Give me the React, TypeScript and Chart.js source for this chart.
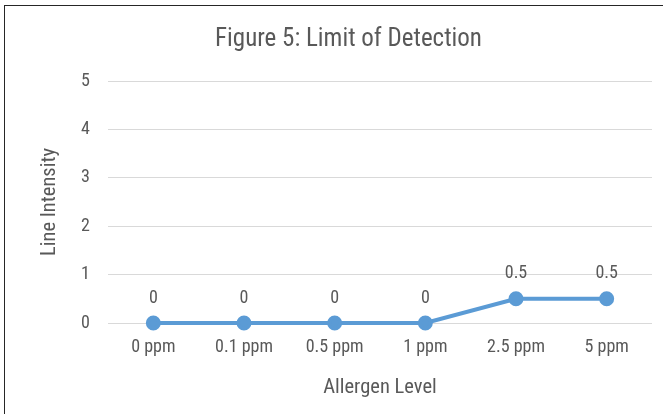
import React, { useEffect, useRef } from "react";
import { Chart, registerables } from "chart.js";

Chart.register(...registerables);

const categories = ["0 ppm", "0.1 ppm", "0.5 ppm", "1 ppm", "2.5 ppm", "5 ppm"];
const intensity = [0, 0, 0, 0, 0.5, 0.5];
const yTicks = [0, 1, 2, 3, 4, 5];
const chartTitle = "Figure 5: Limit of Detection";

const FONT = "'Liberation Sans Narrow', 'Roboto Condensed', 'Arial Narrow', sans-serif";
const GRAY = "#595959";
const BLUE = "#5b9bd5";

const dataLabels = {
  id: "dataLabels",
  afterDatasetsDraw(chart: any) {
    const ctx = chart.ctx;
    const meta = chart.getDatasetMeta(0);
    const ds = chart.data.datasets[0];
    ctx.save();
    ctx.font = `18px ${FONT}`;
    ctx.fillStyle = GRAY;
    ctx.textAlign = "center";
    ctx.textBaseline = "middle";
    meta.data.forEach((pt: any, i: number) => {
      ctx.fillText(String(ds.data[i]), pt.x, pt.y - 25);
    });
    ctx.restore();
  },
};

const titlePlugin = {
  id: "customTitle",
  afterDraw(chart: any) {
    const ctx = chart.ctx;
    ctx.save();
    ctx.font = `25px ${FONT}`;
    ctx.fillStyle = GRAY;
    ctx.textAlign = "center";
    ctx.textBaseline = "middle";
    ctx.fillText(chartTitle, 348.5, 40);
    ctx.restore();
  },
};

export default function App() {
  const ref = useRef<HTMLCanvasElement>(null);
  useEffect(() => {
    if (!ref.current) return;
    const chart = new Chart(ref.current, {
      type: "line",
      data: {
        labels: categories,
        datasets: [
          {
            data: intensity,
            borderColor: BLUE,
            backgroundColor: BLUE,
            borderWidth: 4,
            pointRadius: 5.5,
            pointHoverRadius: 5.5,
            pointBackgroundColor: BLUE,
            pointBorderColor: BLUE,
            tension: 0,
            clip: false,
          } as any,
        ],
      },
      options: {
        animation: false,
        responsive: false,
        layout: { padding: { left: 0, right: 11, top: 81, bottom: 0 } },
        plugins: {
          legend: { display: false },
          tooltip: { enabled: false },
          title: { display: false },
        },
        scales: {
          x: {
            offset: true,
            grid: { display: false, drawTicks: false },
            border: { display: false },
            ticks: { color: GRAY, font: { family: FONT, size: 18 }, padding: 14 },
            title: {
              display: true,
              text: "Allergen Level",
              color: GRAY,
              font: { family: FONT, size: 20.5 },
              padding: { top: 0, bottom: 13.5 },
            },
            afterFit(scale: any) {
              scale.height = 91;
            },
          },
          y: {
            min: 0,
            max: 5,
            afterBuildTicks(scale: any) {
              scale.ticks = yTicks.map((v) => ({ value: v }));
            },
            grid: { color: "#d9d9d9", lineWidth: 1, drawTicks: false },
            border: { display: false },
            ticks: { color: GRAY, font: { family: FONT, size: 18 }, padding: 18 },
            title: {
              display: true,
              text: "Line Intensity",
              color: GRAY,
              font: { family: FONT, size: 20.5 },
              padding: { top: 38, bottom: 0 },
            },
            afterFit(scale: any) {
              scale.width = 108;
            },
          },
        },
      },
      plugins: [dataLabels, titlePlugin],
    });
    return () => chart.destroy();
  }, []);

  return (
    <div style={{ position: "fixed", left: 0, top: 0, width: 663, height: 414, background: "#fff", overflow: "hidden" }}>
      <canvas ref={ref} width={663} height={414} style={{ position: "absolute", left: 0, top: 0, width: 663, height: 414 }} />
      <div
        style={{
          position: "absolute",
          left: 4,
          top: 5,
          width: 700,
          height: 500,
          borderLeft: "1px solid #262626",
          borderTop: "1px solid #262626",
          pointerEvents: "none",
        }}
      />
    </div>
  );
}
